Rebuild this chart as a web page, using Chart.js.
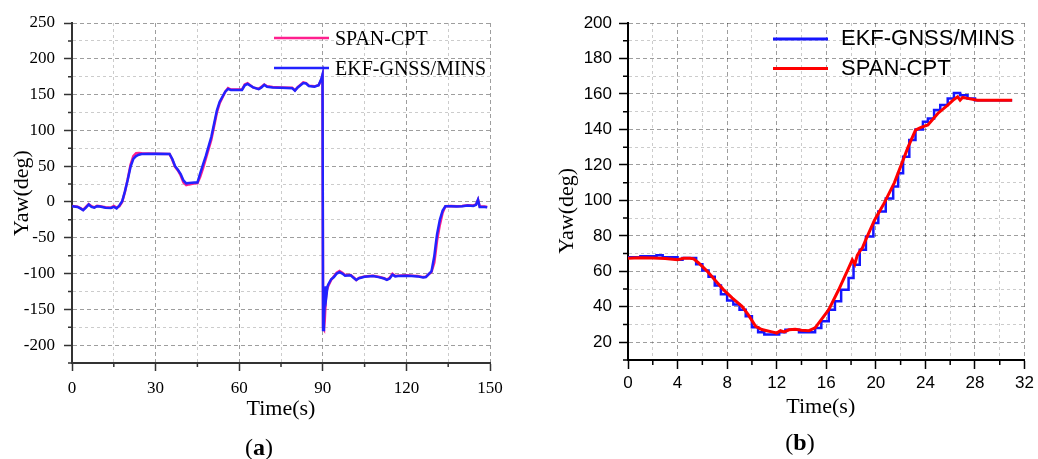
<!DOCTYPE html>
<html>
<head>
<meta charset="utf-8">
<script src="https://cdn.jsdelivr.net/npm/chart.js@4.4.1/dist/chart.umd.min.js"></script>
<style>
  html, body { margin: 0; padding: 0; background: #fff; }
  #wrap { position: relative; width: 1038px; height: 459px; overflow: hidden; }
  .box { position: absolute; top: 0; height: 459px; }
  #boxA { left: 0; width: 530px; }
  #boxB { left: 530px; width: 508px; }
  .cap { position: absolute; font-family: "Liberation Serif", "Times New Roman", serif; font-size: 24px; line-height: 1; transform: translate(-50%, -50%); color: #000; }
</style>
</head>
<body>
<div id="wrap">
  <div class="box" id="boxA"><canvas id="chartA" width="530" height="459"></canvas></div>
  <div class="box" id="boxB"><canvas id="chartB" width="508" height="459"></canvas></div>
  <div class="cap" style="left:259px;top:447px">(<b>a</b>)</div>
  <div class="cap" style="left:800px;top:442px">(<b>b</b>)</div>
</div>
<script>
// ---- (a) whole run, 0-150 s ----
const timeA = [0, 2, 3, 4, 5, 6, 7, 8, 9, 10, 12, 14, 15, 16, 17, 18, 19, 20, 21, 22, 23, 24, 25, 30, 35,
  36, 37, 38, 39, 40, 41, 42, 44, 45, 46, 47, 48, 50, 52, 53, 55, 56, 57, 61, 62, 63, 65, 67, 68, 69, 70,
  72, 75, 79, 80, 81, 83, 84, 85, 87, 88.5, 89.5, 89.9, 90.1, 90.4, 90.7, 91, 91.3, 91.7, 92, 93, 94, 95,
  96, 97, 98, 100, 101, 102, 103, 105, 108, 110, 112, 113, 114, 115, 116, 117, 120, 122, 124, 126, 127,
  128, 129, 130, 130.5, 131, 132, 133, 134, 136, 138, 140, 142, 144, 145, 145.7, 146.3, 148, 149];
const ekfA = [-6, -7, -9, -11.5, -8, -3.5, -7, -8, -6, -6.5, -8, -8.5, -7, -9, -5, 1, 15, 31, 49, 60, 64, 66, 67, 67.5, 67,
  60, 50, 45, 39, 30, 26, 26.5, 27, 27, 40, 52, 64, 91, 128, 140, 154, 158, 156.5, 156.5, 163, 165, 160, 157.5, 160, 163.5, 161,
  160, 159.5, 159, 155.5, 160, 166, 165.5, 162, 161, 163, 172, 178, -179, -165, -140, -118, -131, -118, -115, -108, -105, -100,
  -98, -100, -103, -102.5, -106, -109, -106.5, -104.5, -103.5, -105, -107, -109, -107, -101.5, -104, -103.5, -103, -103.5, -104, -105.5, -105,
  -101, -97, -76, -60, -45, -25, -12, -6, -6, -6.5, -6, -5, -5.5, -4, 3, -7, -7, -7.5];
const spanA = [-5.5, -6.5, -8.5, -11, -7, -3, -6, -7.5, -5.5, -6, -7.5, -8, -5.5, -8, -6, 0, 14, 32, 52, 64, 68, 68.5, 68, 67.5, 67,
  59, 49, 44, 37, 27, 23.5, 24.5, 26, 26, 35, 47, 60, 87, 125, 138, 154, 159, 157, 157, 164, 166, 160, 158, 161, 164, 161.5,
  160.5, 160, 159.5, 156, 160.5, 167, 166, 162.5, 161.5, 163, 171, 177, -176, -178, -165, -140, -125, -120, -117, -109, -104, -99,
  -96.5, -99, -102, -102, -105, -109, -106, -104, -103, -104.5, -106.5, -108.5, -106, -100.5, -103.5, -103, -102.5, -103, -103.5, -105, -104.5,
  -101, -98, -85, -70, -54, -32, -15, -6, -5.5, -6, -5.5, -4.5, -5, -3.5, 3, -6.5, -6.5, -7];

// ---- (b) turn detail, 0-31 s ----
const timeEkfB = [0, 1, 2.3, 2.8, 4, 4.4, 5.5, 6.0, 6.5, 7.0, 7.5, 8.0, 8.5, 9.0, 9.5, 10.0, 10.5, 11.0, 12.2, 12.7,
  13.8, 15.1, 15.6, 16.2, 16.7, 17.2, 17.8, 18.2, 18.7, 19.2, 19.8, 20.2, 20.8, 21.4, 21.8, 22.2, 22.7, 23.2,
  23.8, 24.2, 24.7, 25.2, 25.8, 26.3, 26.8, 27.4, 28, 31];
const ekfB = [68, 68.5, 69, 68, 66.5, 67.5, 64, 60.5, 57, 52, 47, 43.5, 41.3, 38.4, 34.7, 28.5, 25.7, 24.4, 25.6, 27,
  25.6, 28.1, 31.8, 38.4, 43.1, 49.6, 56.2, 63.7, 72.1, 79.6, 87.2, 93.7, 101, 107.8, 115.3, 124.6, 134, 140,
  144.3, 146.2, 150.9, 153.7, 157.5, 160.6, 159.3, 157.5, 156.5, 156.5];
const timeSpanB = [0, 1, 2, 3, 4, 4.5, 5, 5.3, 5.7, 6.4, 7.1, 7.7, 8.4, 9.2, 9.7, 10.3, 10.8, 11.2, 11.7, 12, 12.3,
  12.6, 13, 13.5, 14, 14.6, 15.1, 15.6, 16.2, 17, 17.8, 18.1, 18.3, 18.5, 18.7, 18.9, 19.2, 19.9, 20.6, 21.5,
  22.6, 23.2, 23.6, 24.2, 25, 25.8, 26.3, 26.6, 26.8, 27, 27.4, 28.2, 31];
const spanB = [67.4, 67.6, 67.5, 67.2, 66.5, 67.3, 67.4, 67, 64.7, 60, 54.4, 49.7, 45, 40.3, 35.6, 29, 27.2, 26.5, 25.7, 25.2, 26.5,
  25.8, 27, 27.3, 26.8, 26.5, 28.1, 32.8, 38.4, 49.6, 61.8, 66.5, 64, 69, 71.2, 73, 78, 89, 97.5, 110,
  130, 139.6, 141, 142.5, 149, 153.7, 156.9, 158.4, 156.5, 158, 157.5, 156.5, 156.5];

const pts = (xs, ys) => xs.map((x, i) => ({ x: x, y: ys[i] }));

const SERIF = '"Liberation Serif", "Times New Roman", serif';
const SANS = '"Liberation Sans", Arial, sans-serif';
const MAJOR = 'rgba(0,0,0,0.38)';
const MINOR = 'rgba(0,0,0,0.2)';

// short minor ticks on the axes
const minorTicks = {
  id: 'minorTicks',
  afterDraw(chart, args, o) {
    const ctx = chart.ctx;
    const xs = chart.scales.x, ys = chart.scales.y;
    ctx.save();
    ctx.strokeStyle = o.color;
    ctx.lineWidth = 1.5;
    ctx.beginPath();
    xs.ticks.forEach(t => {
      if (t.value % o.xMajor !== 0) {
        const p = xs.getPixelForValue(t.value);
        ctx.moveTo(p, xs.top); ctx.lineTo(p, xs.top + o.len);
      }
    });
    ys.ticks.forEach(t => {
      if (t.value % o.yMajor !== 0) {
        const p = ys.getPixelForValue(t.value);
        ctx.moveTo(ys.right, p); ctx.lineTo(ys.right - o.len, p);
      }
    });
    ctx.stroke();
    ctx.restore();
  }
};

// legend drawn inside the plot, line sample + label
const lineLegend = {
  id: 'lineLegend',
  afterDraw(chart, args, o) {
    const ctx = chart.ctx;
    ctx.save();
    chart.data.datasets.forEach((ds, i) => {
      const y = o.y + i * o.gap;
      ctx.strokeStyle = ds.borderColor;
      ctx.lineWidth = o.lineWidth;
      ctx.beginPath();
      ctx.moveTo(o.x, y); ctx.lineTo(o.x + o.len, y);
      ctx.stroke();
      ctx.fillStyle = '#000';
      ctx.font = o.font;
      ctx.textAlign = 'left';
      ctx.textBaseline = 'middle';
      ctx.fillText(ds.label, o.x + o.len + o.space, y + o.textDy);
    });
    ctx.restore();
  }
};

function scale(cfg) {
  const isMajor = v => v % cfg.major === 0;
  return {
    type: 'linear',
    min: cfg.min, max: cfg.max,
    afterFit: cfg.fit,
    title: { display: true, text: cfg.title, color: '#000', font: { family: SERIF, size: 22 }, padding: cfg.titlePad },
    ticks: {
      stepSize: cfg.step, autoSkip: false, maxRotation: 0, padding: cfg.pad, color: '#000',
      font: { family: cfg.font, size: 17 },
      callback: v => isMajor(v) ? String(v) : ''
    },
    grid: {
      color: c => (c.tick && isMajor(c.tick.value)) ? MAJOR : MINOR,
      lineWidth: 1,
      tickLength: cfg.tickLen,
      tickWidth: 1.5,
      tickColor: c => (c.tick && isMajor(c.tick.value)) ? cfg.axisColor : 'rgba(0,0,0,0)'
    },
    border: {
      color: cfg.axisColor, width: 2,
      dash: c => (c.tick && isMajor(c.tick.value)) ? [4, 3] : [3, 3]
    }
  };
}

new Chart(document.getElementById('chartA'), {
  type: 'line',
  data: {
    datasets: [
      { label: 'SPAN-CPT', data: pts(timeA, spanA), borderColor: '#ff1f8e', borderWidth: 2.5, pointRadius: 0, order: 1 },
      { label: 'EKF-GNSS/MINS', data: pts(timeA, ekfA), borderColor: '#2222ff', borderWidth: 2.5, pointRadius: 0, order: 0 }
    ]
  },
  options: {
    responsive: false, animation: false, devicePixelRatio: 1,
    layout: { padding: { top: 23, right: 40, left: 0, bottom: 37 } },
    scales: {
      x: scale({ min: 0, max: 150, step: 15, major: 30, title: 'Time(s)', titlePad: { top: 0, bottom: 0 },
        pad: 7, tickLen: 8, font: SERIF, axisColor: '#333', fit: s => { s.height = 59; } }),
      y: scale({ min: -225, max: 250, step: 25, major: 50, title: 'Yaw(deg)', titlePad: { top: 9, bottom: 0 },
        pad: 9, tickLen: 8, font: SERIF, axisColor: '#333', fit: s => { s.width = 72; } })
    },
    plugins: {
      legend: { display: false },
      tooltip: { enabled: false },
      minorTicks: { color: '#333', len: 4, xMajor: 30, yMajor: 50 },
      lineLegend: { x: 274, y: 38, gap: 30, len: 55, space: 6, textDy: 1.5, lineWidth: 2.5, font: '20px ' + SERIF }
    }
  },
  plugins: [minorTicks, lineLegend]
});

new Chart(document.getElementById('chartB'), {
  type: 'line',
  data: {
    datasets: [
      { label: 'EKF-GNSS/MINS', data: pts(timeEkfB, ekfB), borderColor: '#1515ff', borderWidth: 2.5, pointRadius: 0, stepped: 'before', order: 1 },
      { label: 'SPAN-CPT', data: pts(timeSpanB, spanB), borderColor: '#ff0000', borderWidth: 3, pointRadius: 0, order: 0 }
    ]
  },
  options: {
    responsive: false, animation: false, devicePixelRatio: 1,
    layout: { padding: { top: 23, right: 10, left: 0, bottom: 39 } },
    scales: {
      x: scale({ min: 0, max: 32, step: 2, major: 4, title: 'Time(s)  ', titlePad: { top: 0, bottom: 0 },
        pad: 4, tickLen: 9, font: SANS, axisColor: '#000', fit: s => { s.height = 60; } }),
      y: scale({ min: 10, max: 200, step: 10, major: 20, title: 'Yaw(deg)       ', titlePad: { top: 24, bottom: 0 },
        pad: 7, tickLen: 9, font: SANS, axisColor: '#000', fit: s => { s.width = 98; } })
    },
    plugins: {
      legend: { display: false },
      tooltip: { enabled: false },
      minorTicks: { color: '#000', len: 5, xMajor: 4, yMajor: 20 },
      lineLegend: { x: 243, y: 39, gap: 29.5, len: 55, space: 13, textDy: 0, lineWidth: 3, font: '22px ' + SANS }
    }
  },
  plugins: [minorTicks, lineLegend]
});
</script>
</body>
</html>
